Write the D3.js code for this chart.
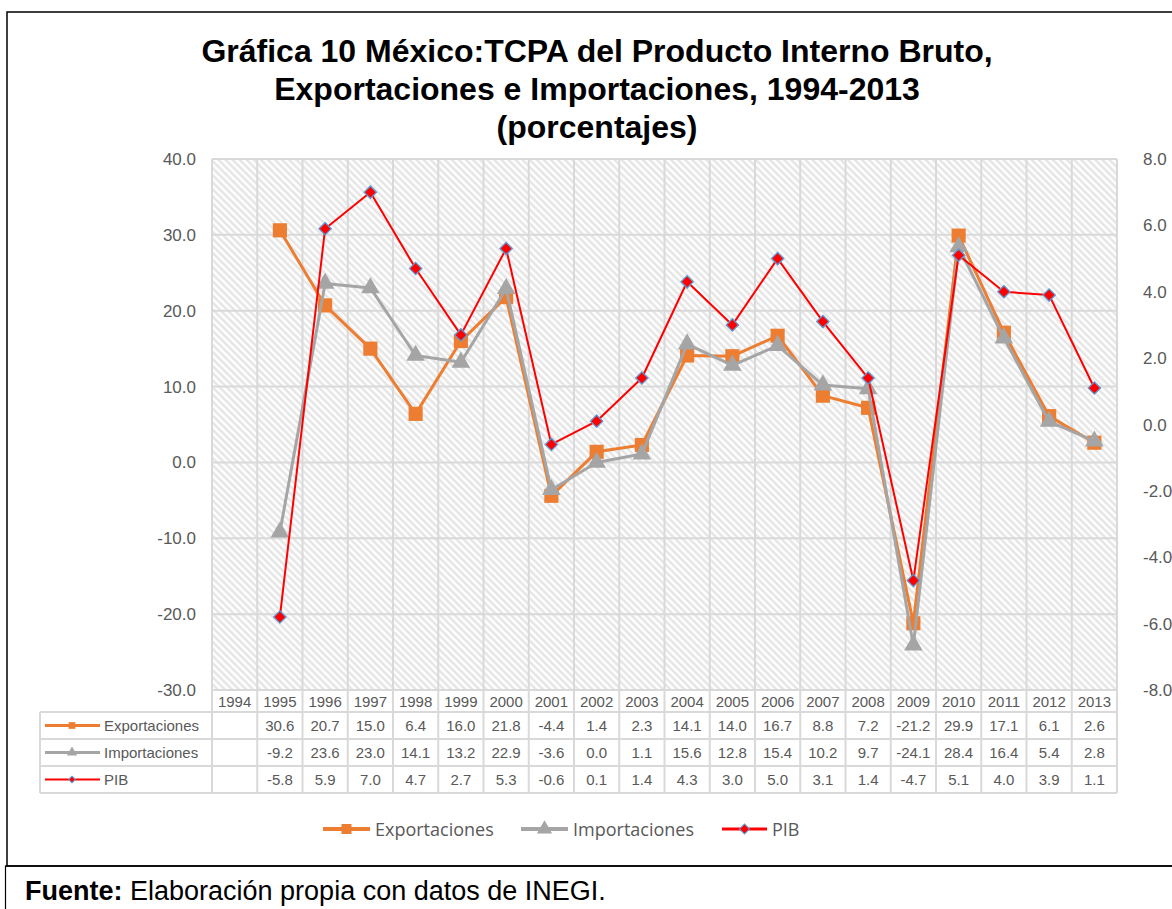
<!DOCTYPE html>
<html>
<head>
<meta charset="utf-8">
<script src="https://cdn.jsdelivr.net/npm/d3@7"></script>
<style>
  body { margin: 0; background: #fff; }
  svg text { font-family: "Liberation Sans", Arial, sans-serif; }
</style>
</head>
<body>
<svg id="chart" width="1172" height="909"></svg>
<script>
const years = ["1994","1995","1996","1997","1998","1999","2000","2001","2002","2003","2004","2005","2006","2007","2008","2009","2010","2011","2012","2013"];
const exportaciones = [null, 30.6, 20.7, 15.0, 6.4, 16.0, 21.8, -4.4, 1.4, 2.3, 14.1, 14.0, 16.7, 8.8, 7.2, -21.2, 29.9, 17.1, 6.1, 2.6];
const importaciones = [null, -9.2, 23.6, 23.0, 14.1, 13.2, 22.9, -3.6, 0.0, 1.1, 15.6, 12.8, 15.4, 10.2, 9.7, -24.1, 28.4, 16.4, 5.4, 2.8];
const pib = [null, -5.8, 5.9, 7.0, 4.7, 2.7, 5.3, -0.6, 0.1, 1.4, 4.3, 3.0, 5.0, 3.1, 1.4, -4.7, 5.1, 4.0, 3.9, 1.1];
const leftTicks = [40, 30, 20, 10, 0, -10, -20, -30];
const rightTicks = [8, 6, 4, 2, 0, -2, -4, -6, -8];
const titleLines = ["Gráfica 10 México:TCPA del Producto Interno Bruto,", "Exportaciones e Importaciones, 1994-2013", "(porcentajes)"];

const series = [
  {name: "Exportaciones", values: exportaciones, color: "#ED7D31", width: 3, marker: "square", axis: "left"},
  {name: "Importaciones", values: importaciones, color: "#A5A5A5", width: 3, marker: "triangle", axis: "left"},
  {name: "PIB", values: pib, color: "#FF0000", width: 2, marker: "diamond", axis: "right"}
];

const svg = d3.select("#chart");
const plot = {left: 212, right: 1117, top: 159, bottom: 690};
const gridColor = "#d9d9d9";
const textColor = "#595959";
const fmt = v => v.toFixed(1);   // plain hyphen for negatives, like Excel

// Frames ---------------------------------------------------------
svg.append("rect").attr("x", 7).attr("y", 12).attr("width", 1180).attr("height", 854)
  .attr("fill", "#fff").attr("stroke", "#000").attr("stroke-width", 1.5);
svg.append("line").attr("x1", 5).attr("x2", 1172).attr("y1", 866).attr("y2", 866)
  .attr("stroke", "#000").attr("stroke-width", 1.5);
svg.append("line").attr("x1", 5.5).attr("x2", 5.5).attr("y1", 866).attr("y2", 909)
  .attr("stroke", "#000").attr("stroke-width", 1.2);

// Title
svg.append("g").selectAll("text").data(titleLines).enter().append("text")
  .attr("x", 597).attr("y", (d, i) => 62 + i * 38)
  .attr("text-anchor", "middle")
  .style("font-size", "32px").style("font-weight", "bold").attr("fill", "#000")
  .text(d => d);

// Scales
const x = d3.scaleBand().domain(years).range([plot.left, plot.right]);
const yL = d3.scaleLinear().domain([-30, 40]).range([plot.bottom, plot.top]);
const yR = d3.scaleLinear().domain([-8, 8]).range([plot.bottom, plot.top]);
const cx = d => x(d) + x.bandwidth() / 2;

// Hatched background
const defs = svg.append("defs");
const pat = defs.append("pattern").attr("id", "hatch").attr("patternUnits", "userSpaceOnUse")
  .attr("width", 5).attr("height", 5).attr("patternTransform", "rotate(-45)");
pat.append("rect").attr("width", 5).attr("height", 5).attr("fill", "#fff");
pat.append("line").attr("x1", 1.5).attr("y1", 0).attr("x2", 1.5).attr("y2", 5)
  .attr("stroke", "#e2e2e2").attr("stroke-width", 2.2);

svg.append("rect").attr("x", plot.left).attr("y", plot.top)
  .attr("width", plot.right - plot.left).attr("height", plot.bottom - plot.top)
  .attr("fill", "url(#hatch)");

// Grid
const grid = svg.append("g").attr("stroke", gridColor).attr("stroke-width", 2);
grid.selectAll(".h").data(leftTicks).enter().append("line")
  .attr("x1", plot.left).attr("x2", plot.right)
  .attr("y1", d => yL(d)).attr("y2", d => yL(d));
const colEdges = years.map(d => x(d)).concat([plot.right]);
grid.selectAll(".v").data(colEdges).enter().append("line")
  .attr("x1", d => d).attr("x2", d => d)
  .attr("y1", plot.top).attr("y2", 793);

// Axes labels
svg.append("g").selectAll("text").data(leftTicks).enter().append("text")
  .attr("x", 196).attr("y", d => yL(d) + 6)
  .attr("text-anchor", "end").style("font-size", "17px").attr("fill", textColor)
  .text(fmt);
svg.append("g").selectAll("text").data(rightTicks).enter().append("text")
  .attr("x", 1143).attr("y", d => yR(d) + 6)
  .attr("text-anchor", "start").style("font-size", "17px").attr("fill", textColor)
  .text(fmt);

// Markers --------------------------------------------------------
function markerPath(type, size) {
  const sym = type === "triangle" ? d3.symbolTriangle : d3.symbolSquare;
  return d3.symbol().type(sym).size(size)();
}
function markerTransform(type, px, py) {
  return type === "diamond" ? `translate(${px},${py}) rotate(45)` : `translate(${px},${py})`;
}

// Data table -----------------------------------------------------
const rowTop = 712, rowH = 27, tableLeft = 40;
const table = svg.append("g");
table.selectAll(".rl").data(d3.range(series.length + 1)).enter().append("line")
  .attr("x1", tableLeft).attr("x2", plot.right)
  .attr("y1", d => rowTop + d * rowH).attr("y2", d => rowTop + d * rowH)
  .attr("stroke", gridColor).attr("stroke-width", 2);
table.append("line").attr("x1", tableLeft).attr("x2", tableLeft)
  .attr("y1", rowTop).attr("y2", rowTop + rowH * series.length)
  .attr("stroke", gridColor).attr("stroke-width", 2);

table.selectAll(".yr").data(years).enter().append("text")
  .attr("x", cx).attr("y", 707)
  .attr("text-anchor", "middle").style("font-size", "15px").attr("fill", textColor)
  .text(d => d);

series.forEach((s, si) => {
  const cy = rowTop + si * rowH + rowH / 2;
  const g = table.append("g");
  g.append("line").attr("x1", 45).attr("x2", 100).attr("y1", cy).attr("y2", cy)
    .attr("stroke", s.color).attr("stroke-width", s.width);
  g.append("path").attr("d", markerPath(s.marker, s.marker === "diamond" ? 22 : 45))
    .attr("transform", markerTransform(s.marker, 72, cy))
    .attr("fill", s.color).attr("stroke", s.marker === "diamond" ? "#5B9BD5" : "none").attr("stroke-width", 1);
  g.append("text").attr("x", 104).attr("y", cy + 5).style("font-size", "15px").attr("fill", textColor)
    .text(s.name);
  g.selectAll(".v").data(years).enter().append("text")
    .attr("x", cx).attr("y", cy + 5)
    .attr("text-anchor", "middle").style("font-size", "15px").attr("fill", textColor)
    .text((d, i) => s.values[i] == null ? "" : fmt(s.values[i]));
});

// Lines ----------------------------------------------------------
series.forEach(s => {
  const yS = s.axis === "left" ? yL : yR;
  const pts = years.map((d, i) => ({year: d, v: s.values[i]})).filter(p => p.v != null);
  const line = d3.line().x(p => cx(p.year)).y(p => yS(p.v));
  svg.append("path").datum(pts).attr("d", line)
    .attr("fill", "none").attr("stroke", s.color).attr("stroke-width", s.width)
    .attr("stroke-linejoin", "round");
  svg.append("g").selectAll("path").data(pts).enter().append("path")
    .attr("d", markerPath(s.marker, s.marker === "square" ? 200 : s.marker === "triangle" ? 150 : 76))
    .attr("transform", p => markerTransform(s.marker, cx(p.year), yS(p.v)))
    .attr("fill", s.color)
    .attr("stroke", s.marker === "diamond" ? "#5B9BD5" : "none").attr("stroke-width", 1.3);
});

// Legend ---------------------------------------------------------
const legendItems = [
  {s: series[0], x1: 323, x2: 370},
  {s: series[1], x1: 521, x2: 568},
  {s: series[2], x1: 722, x2: 767}
];
const lg = svg.append("g");
legendItems.forEach(it => {
  const ly = 829, lx = (it.x1 + it.x2) / 2;
  lg.append("line").attr("x1", it.x1).attr("x2", it.x2).attr("y1", ly).attr("y2", ly)
    .attr("stroke", it.s.color).attr("stroke-width", it.s.width + 1);
  lg.append("path").attr("d", markerPath(it.s.marker, it.s.marker === "diamond" ? 50 : 100))
    .attr("transform", markerTransform(it.s.marker, lx, ly)).attr("fill", it.s.color)
    .attr("stroke", it.s.marker === "diamond" ? "#5B9BD5" : "none");
  lg.append("text").attr("x", it.x2 + 5).attr("y", ly + 7)
    .style("font-family", "'Open Sans', sans-serif").style("font-size", "18px").attr("fill", textColor)
    .text(it.s.name);
});

// Footer
const ft = svg.append("text").attr("x", 25).attr("y", 900).style("font-size", "27px").attr("fill", "#000");
ft.append("tspan").style("font-weight", "bold").text("Fuente:");
ft.append("tspan").text(" Elaboración propia con datos de INEGI.");
</script>
</body>
</html>
